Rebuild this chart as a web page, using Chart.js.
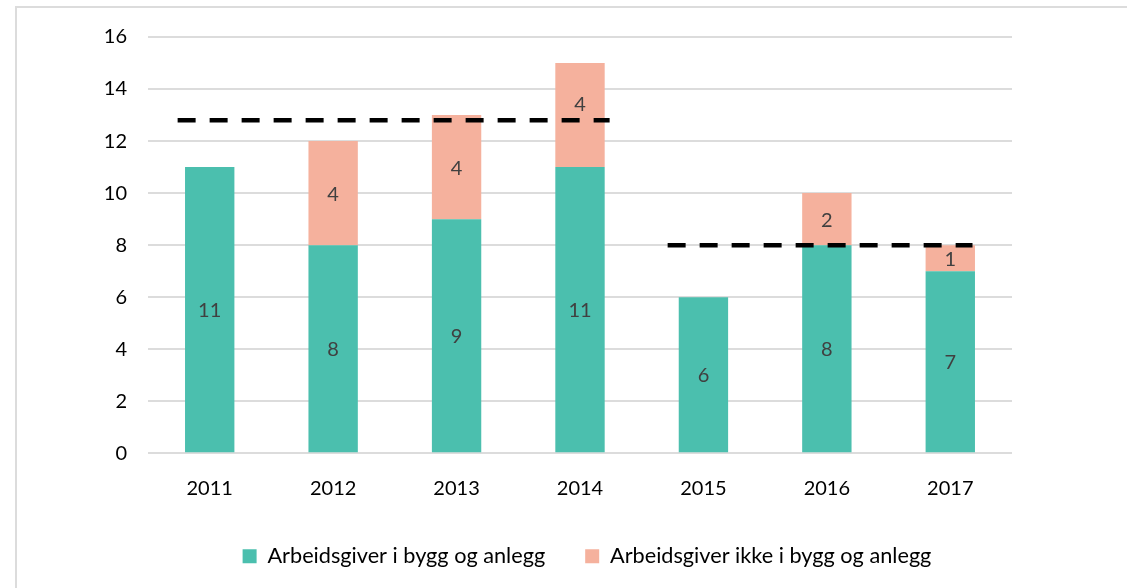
<!DOCTYPE html>
<html><head><meta charset="utf-8">
<script src="https://cdn.jsdelivr.net/npm/chart.js@4"></script>
<style>
html,body{margin:0;padding:0;background:#fff;overflow:hidden;}
#wrap{position:relative;width:1127px;height:588px;overflow:hidden;}
#frame{position:absolute;left:15px;top:6px;width:1300px;height:800px;border-left:2px solid #dcdcdc;border-top:2px solid #dcdcdc;}
canvas{position:absolute;left:0;top:0;}
</style></head><body>
<div id="wrap"><div id="frame"></div><canvas id="c" width="1127" height="588"></canvas></div>
<script>
const categories = ['2011','2012','2013','2014','2015','2016','2017'];
const inBygg = [11, 8, 9, 11, 6, 8, 7];
const notBygg = [0, 4, 4, 4, 0, 2, 1];
const seriesNames = ['Arbeidsgiver i bygg og anlegg', 'Arbeidsgiver ikke i bygg og anlegg'];
const yTicks = [0, 2, 4, 6, 8, 10, 12, 14, 16];
// average reference lines (level, category-index span)
const avgLevels = [12.8, 8.0];
const avgFrom = [-0.26, 3.71];
const avgTo = [3.24, 6.18];

const FONT = 'Lato';
const teal = '#4bbfae';
const salmon = '#f5b19d';

const segLabels = {
  id: 'segLabels',
  afterDatasetsDraw(chart) {
    const ctx = chart.ctx;
    ctx.save();
    ctx.font = '20px ' + FONT;
    ctx.fillStyle = '#404040';
    ctx.textAlign = 'center';
    ctx.textBaseline = 'middle';
    const ys = chart.scales.y, xl = chart.scales.xl;
    chart.data.datasets.forEach((ds, i) => {
      if (ds.type === 'line') return;
      const meta = chart.getDatasetMeta(i);
      meta.data.forEach((el, j) => {
        const v = ds.data[j];
        if (!v) return;
        let y = (el.y + el.base) / 2;
        avgLevels.forEach((lv, k) => {
          const ly = ys.getPixelForValue(lv);
          const x0 = xl.getPixelForValue(avgFrom[k]), x1 = xl.getPixelForValue(avgTo[k]);
          if (el.x > x0 && el.x < x1 && Math.abs(y - ly) < 8) y = ly - 17;
        });
        ctx.fillText(String(v), el.x, y + 1);
      });
    });
    ctx.restore();
  }
};

const lineSets = avgLevels.map((lv, k) => ({
  type: 'line',
  label: '_avg' + k,
  xAxisID: 'xl',
  data: [{x: avgFrom[k], y: lv}, {x: avgTo[k], y: lv}],
  borderColor: '#000',
  borderWidth: 4.5,
  borderDash: [18, 14],
  pointRadius: 0,
  fill: false,
  order: 0
}));

new Chart(document.getElementById('c'), {
  type: 'bar',
  data: {
    labels: categories,
    datasets: [
      {label: seriesNames[0], data: inBygg, backgroundColor: teal, borderWidth: 0, order: 1, grouped: false, barPercentage: 1, categoryPercentage: 0.4},
      {label: seriesNames[1], data: notBygg, backgroundColor: salmon, borderWidth: 0, order: 1, grouped: false, barPercentage: 1, categoryPercentage: 0.4},
      ...lineSets
    ]
  },
  options: {
    responsive: false,
    animation: false,
    layout: {padding: {left: 48, right: 1, top: 37, bottom: 11}},
    plugins: {
      tooltip: {enabled: false},
      legend: {
        position: 'bottom',
        labels: {
          font: {family: FONT, size: 21.7},
          color: '#000',
          boxWidth: 14, boxHeight: 14,
          padding: 40,
          filter: (item) => !item.text.startsWith('_')
        }
      }
    },
    scales: {
      x: {
        stacked: true,
        grid: {display: false, drawTicks: false},
        border: {display: false},
        ticks: {font: {family: FONT, size: 20}, color: '#000', padding: 23},
        afterFit: (s) => { s.height = 52; }
      },
      xl: {
        type: 'linear', display: false, offset: false, min: -0.5, max: 6.5
      },
      y: {
        stacked: true,
        min: yTicks[0], max: yTicks[yTicks.length - 1],
        ticks: {stepSize: yTicks[1] - yTicks[0], font: {family: FONT, size: 20}, color: '#000', padding: 21},
        grid: {color: '#dcdcdc', lineWidth: 2, drawTicks: false},
        border: {display: false},
        afterFit: (s) => { s.width = 100; }
      },
      yr: {
        position: 'right',
        min: 0, max: 16,
        ticks: {display: false},
        grid: {display: false, drawTicks: false},
        border: {display: false},
        afterFit: (s) => { s.width = 114; }
      }
    }
  },
  plugins: [segLabels]
});
</script>
</body></html>
